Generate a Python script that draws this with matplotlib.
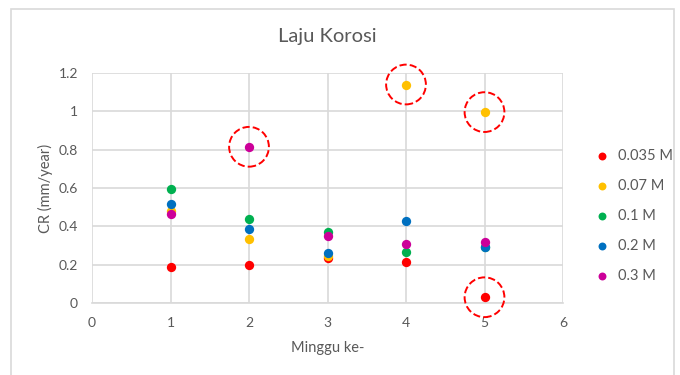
import matplotlib.pyplot as plt
from matplotlib.patches import Rectangle

plt.rcParams['font.family'] = ['Lato', 'DejaVu Sans']

# weeks and corrosion rate per concentration
minggu = [1, 2, 3, 4, 5]
cr_0035 = [0.188, 0.200, 0.237, 0.214, 0.030]
cr_007 = [0.482, 0.333, 0.245, 1.140, 0.996]
cr_01 = [0.593, 0.437, 0.369, 0.268, 0.290]
cr_02 = [0.518, 0.385, 0.263, 0.428, 0.290]
cr_03 = [0.463, 0.815, 0.352, 0.307, 0.317]
labels = ['0.035 M', '0.07 M', '0.1 M', '0.2 M', '0.3 M']
colors = ['#FF0000', '#FFC000', '#00B050', '#0070C0', '#CC0099']

# outlier points that get a dashed circle
sorot_x = [2, 4, 5, 5]
sorot_y = [0.815, 1.140, 0.996, 0.030]

fig = plt.figure(figsize=(6.8, 3.75), dpi=100)
fig.patches.append(Rectangle((11 / 680, -0.1), 663 / 680, 1.1 - 9 / 375,
                             transform=fig.transFigure, fill=False,
                             edgecolor='#D9D9D9', linewidth=1.2))
ax = fig.add_axes([92 / 680, 72 / 375, 471 / 680, 230 / 375])

for ys, lab, c in zip([cr_0035, cr_007, cr_01, cr_02, cr_03], labels, colors):
    ax.scatter(minggu, ys, s=45, color=c, label=lab, zorder=3, linewidths=0)

ax.scatter(sorot_x, sorot_y, s=820, facecolors='none', edgecolors='#FF0000',
           linestyles='--', linewidths=1.4, zorder=4, clip_on=False)

ax.set_xlim(0, 6)
ax.set_ylim(0, 1.2)
ax.set_xticks(range(0, 7))
ax.set_yticks([0, 0.2, 0.4, 0.6, 0.8, 1.0, 1.2])
ax.set_yticklabels(['0', '0.2', '0.4', '0.6', '0.8', '1', '1.2'])
ax.grid(True, color='#D9D9D9', linewidth=1.2, zorder=0)
ax.set_axisbelow(True)
for s in ['top', 'right', 'left']:
    ax.spines[s].set_visible(False)
ax.spines['bottom'].set_color('#D9D9D9')
ax.spines['bottom'].set_linewidth(1.2)
ax.tick_params(axis='x', length=0, labelsize=10, colors='#595959', pad=10)
ax.tick_params(axis='y', length=0, labelsize=10, colors='#595959', pad=10)

ax.set_title('Laju Korosi', fontsize=14.5, color='#595959', pad=22)
ax.set_xlabel('Minggu ke-', fontsize=10.5, color='#595959', labelpad=9)
ax.set_ylabel('CR (mm/year)', fontsize=10.5, color='#595959', labelpad=4)

leg = ax.legend(loc='center left', bbox_to_anchor=(1.04, 0.38), frameon=False,
                fontsize=10.5, labelcolor='#595959', handletextpad=0.1,
                labelspacing=1.1, markerscale=0.85, borderaxespad=0)

fig.savefig('out.png', dpi=100)
